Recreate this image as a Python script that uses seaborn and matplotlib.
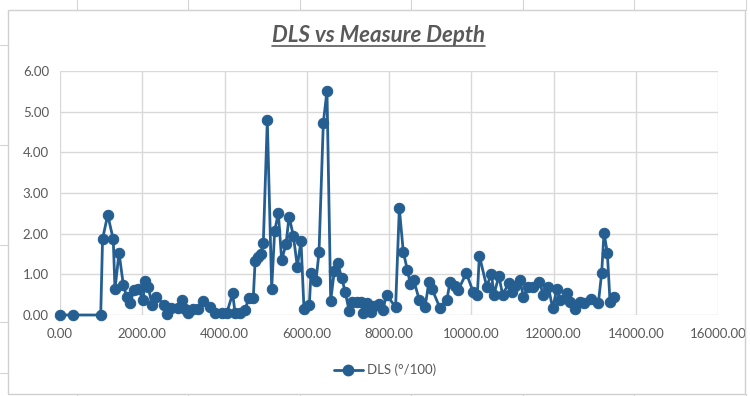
import matplotlib
matplotlib.use("Agg")
import matplotlib.pyplot as plt
from matplotlib.lines import Line2D
from matplotlib.patches import Rectangle
import seaborn as sns
import pandas as pd

# ---- data ----
measured_depth = [0, 308, 990, 1035, 1160, 1295, 1337, 1435, 1540, 1621, 1690, 1808,
                  1905, 2026, 2055, 2150, 2235, 2334, 2535, 2598, 2699, 2877, 2966,
                  3040, 3120, 3242, 3363, 3485, 3647, 3769, 3931, 4053, 4199, 4255,
                  4377, 4499, 4590, 4700, 4745, 4823, 4880, 4944, 5041, 5147, 5220,
                  5309, 5390, 5495, 5570, 5674, 5771, 5860, 5933, 6063, 6103, 6225,
                  6298, 6403, 6492, 6582, 6670, 6750, 6855, 6935, 7030, 7093, 7214,
                  7311, 7376, 7457, 7555, 7640, 7765, 7846, 7943, 8160, 8251, 8348,
                  8446, 8520, 8600, 8737, 8876, 8970, 9050, 9240, 9410, 9483, 9605,
                  9686, 9880, 10050, 10148, 10197, 10375, 10490, 10553, 10670, 10764,
                  10910, 10990, 11070, 11185, 11267, 11388, 11510, 11655, 11753,
                  11874, 11980, 12077, 12157, 12335, 12400, 12522, 12644, 12741,
                  12904, 13090, 13171, 13228, 13309, 13374, 13471]
dls = [0.00, 0.00, 0.00, 1.87, 2.46, 1.86, 0.63, 1.53, 0.74, 0.45, 0.30, 0.61,
       0.63, 0.37, 0.84, 0.68, 0.25, 0.45, 0.25, 0.02, 0.16, 0.16, 0.37,
       0.14, 0.06, 0.14, 0.14, 0.35, 0.20, 0.06, 0.06, 0.04, 0.53, 0.06,
       0.06, 0.12, 0.43, 0.43, 1.33, 1.43, 1.50, 1.78, 4.79, 0.65, 2.07,
       2.51, 1.35, 1.74, 2.42, 1.95, 1.19, 1.82, 0.14, 0.25, 1.03, 0.84,
       1.54, 4.73, 5.51, 0.35, 1.08, 1.28, 0.90, 0.56, 0.11, 0.33, 0.33,
       0.33, 0.06, 0.30, 0.08, 0.22, 0.27, 0.12, 0.50, 0.19, 2.62, 1.55,
       1.11, 0.76, 0.86, 0.37, 0.20, 0.80, 0.63, 0.17, 0.38, 0.82, 0.72,
       0.62, 1.03, 0.56, 0.49, 1.46, 0.70, 1.02, 0.50, 0.96, 0.50,
       0.78, 0.56, 0.72, 0.86, 0.45, 0.70, 0.70, 0.82, 0.49,
       0.70, 0.16, 0.63, 0.37, 0.55, 0.33, 0.14, 0.33, 0.29,
       0.39, 0.29, 1.03, 2.02, 1.53, 0.33, 0.45]
x_ticks = [0, 2000, 4000, 6000, 8000, 10000, 12000, 14000, 16000]
y_ticks = [0, 1, 2, 3, 4, 5, 6]
title_text = "DLS vs Measure Depth"
series_label = "DLS (°/100)"

df = pd.DataFrame({"MD": measured_depth, series_label: dls})

sns.set_theme(style="white")
plt.rcParams["font.family"] = ["Lato", "DejaVu Sans"]

W, H = 750, 396
fig = plt.figure(figsize=(W / 100, H / 100), dpi=100)
fig.patch.set_facecolor("white")

# spreadsheet cell lines around the chart object
cell = "#D4D4D4"
for xp in [77, 188, 300, 411, 523, 634, 746]:
    fig.add_artist(Line2D([xp / W, xp / W], [1 - 0 / H, 1 - 10 / H], color=cell, lw=0.8))
    fig.add_artist(Line2D([xp / W, xp / W], [0, 2 / H], color=cell, lw=0.8))
for yp in [45, 145, 245, 322, 373]:
    fig.add_artist(Line2D([0, 8 / W], [1 - yp / H, 1 - yp / H], color=cell, lw=0.8))
# chart area border
fig.add_artist(Rectangle((8 / W, 1 - 394 / H), (745 - 8) / W, (394 - 10) / H,
                         fill=False, edgecolor="#D0D0D0", lw=1.0))

ax = fig.add_axes([60 / W, 1 - 315 / H, (718 - 60) / W, (315 - 71) / H])
color = "#255E91"
sns.lineplot(data=df, x="MD", y=series_label, ax=ax, color=color, lw=2.0,
             marker="o", markersize=7.5, markeredgecolor=color, markerfacecolor=color,
             label=series_label, legend=False, clip_on=False, zorder=3)

ax.set_xlim(0, 16000)
ax.set_ylim(0, 6)
ax.set_xticks(x_ticks)
ax.set_yticks(y_ticks)
ax.set_xticklabels([f"{v:.2f}" for v in x_ticks])
ax.set_yticklabels([f"{v:.2f}" for v in y_ticks])
ax.tick_params(axis="both", length=0, labelsize=9.5, labelcolor="#595959")
ax.tick_params(axis="x", pad=9)
ax.tick_params(axis="y", pad=8)
ax.grid(True, color="#D9D9D9", lw=1.0)
ax.set_axisbelow(True)
for s in ax.spines.values():
    s.set_visible(False)
ax.set_xlabel("")
ax.set_ylabel("")

title = fig.text(378 / W, 1 - 35 / H, title_text, ha="center", va="center",
                 fontsize=16, fontweight="bold", fontstyle="italic", color="#595959")
# underline matching the title's width
fig.canvas.draw()
bb = title.get_window_extent(renderer=fig.canvas.get_renderer())
x0, x1 = bb.x0 / W, bb.x1 / W
fig.add_artist(Line2D([x0, x1], [1 - 46 / H, 1 - 46 / H], color="#595959", lw=1.2))

handle = Line2D([], [], color=color, lw=2.0, marker="o", markersize=7.5)
fig.legend([handle], [series_label], loc="center", bbox_to_anchor=(385 / W, 1 - 370 / H),
           frameon=False, fontsize=9.5, labelcolor="#595959", handlelength=2.2,
           handletextpad=0.3)

fig.savefig("out.png", dpi=100, facecolor="white")
